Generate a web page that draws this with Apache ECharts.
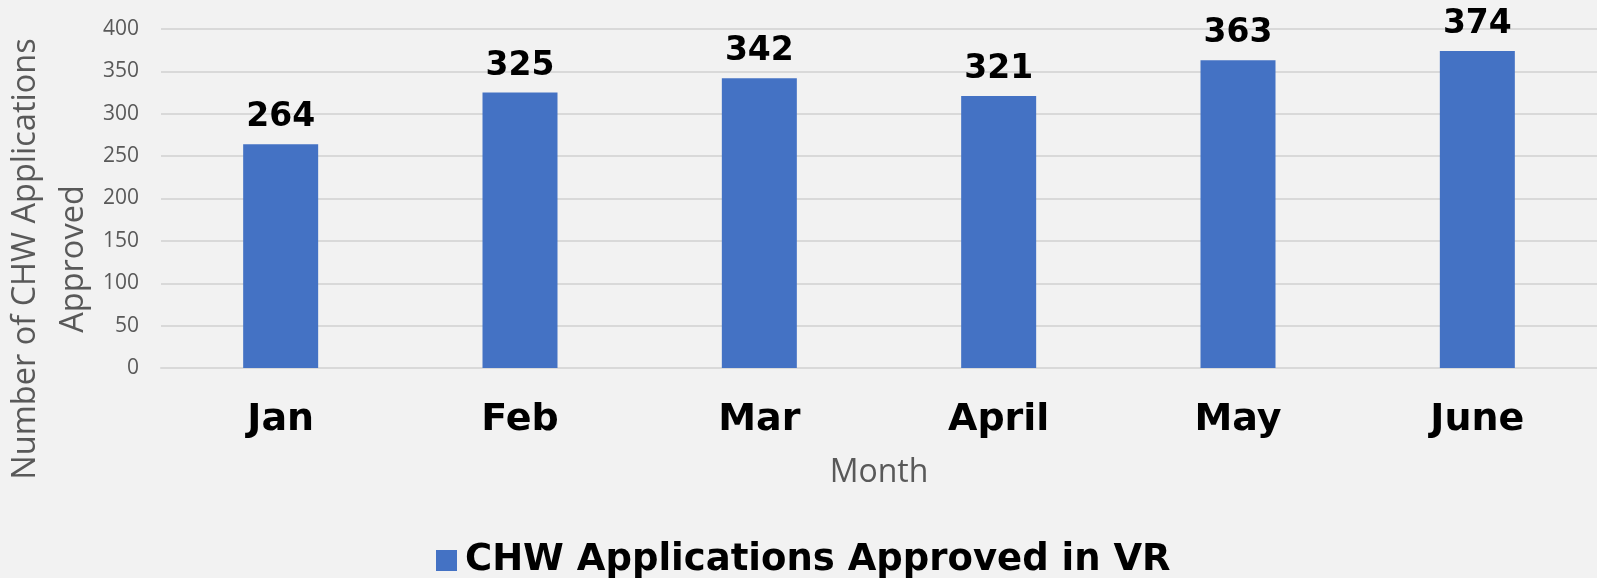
<!DOCTYPE html>
<html>
<head>
<meta charset="utf-8">
<script src="https://cdn.jsdelivr.net/npm/echarts@6/dist/echarts.min.js"></script>
<style>
html,body{margin:0;padding:0;background:#f2f2f2;}
#chart{width:1597px;height:578px;}
</style>
</head>
<body>
<div id="chart"></div>
<script>
const months = ['Jan', 'Feb', 'Mar', 'April', 'May', 'June'];
const approved = [264, 325, 342, 321, 363, 374];
const seriesName = 'CHW Applications Approved in VR';
const yTitle = 'Number of CHW Applications\nApproved';
const xTitle = 'Month';

const chart = echarts.init(document.getElementById('chart'), null, {renderer: 'canvas'});
chart.setOption({
  backgroundColor: '#f2f2f2',
  animation: false,
  grid: {left: 161, right: 0, top: 29, bottom: 210},
  legend: {
    data: [seriesName],
    left: 431,
    top: 537,
    itemWidth: 21,
    itemHeight: 21,
    icon: 'rect',
    textStyle: {fontFamily: 'DejaVu Sans', fontWeight: 'bold', fontSize: 37, color: '#000', padding: [0, 0, 0, 3]}
  },
  xAxis: {
    type: 'category',
    data: months,
    name: xTitle,
    nameLocation: 'middle',
    nameGap: 89,
    nameTextStyle: {fontFamily: 'Open Sans', fontSize: 32, color: '#595959'},
    axisLine: {lineStyle: {color: '#d9d9d9', width: 2}},
    axisTick: {show: false},
    axisLabel: {fontFamily: 'DejaVu Sans', fontWeight: 'bold', fontSize: 38, color: '#000', margin: 33}
  },
  yAxis: {
    type: 'value',
    min: 0, max: 400, interval: 50,
    axisLine: {show: false},
    axisTick: {show: false},
    splitLine: {lineStyle: {color: '#d9d9d9', width: 2}},
    axisLabel: {fontFamily: 'Open Sans', fontSize: 21, color: '#595959', margin: 22}
  },
  graphic: [{
    type: 'text',
    x: 50, y: 259,
    rotation: Math.PI / 2,
    style: {
      text: yTitle,
      fontFamily: 'Open Sans',
      fontSize: 32.5,
      lineHeight: 48,
      fill: '#595959',
      align: 'center',
      verticalAlign: 'middle'
    }
  }],
  series: [{
    name: seriesName,
    type: 'bar',
    data: approved,
    barWidth: 75,
    itemStyle: {color: '#4472c4'},
    label: {
      show: true,
      position: 'top',
      distance: 10,
      fontFamily: 'DejaVu Sans',
      fontWeight: 'bold',
      fontSize: 33,
      color: '#000'
    }
  }]
});
</script>
</body>
</html>
